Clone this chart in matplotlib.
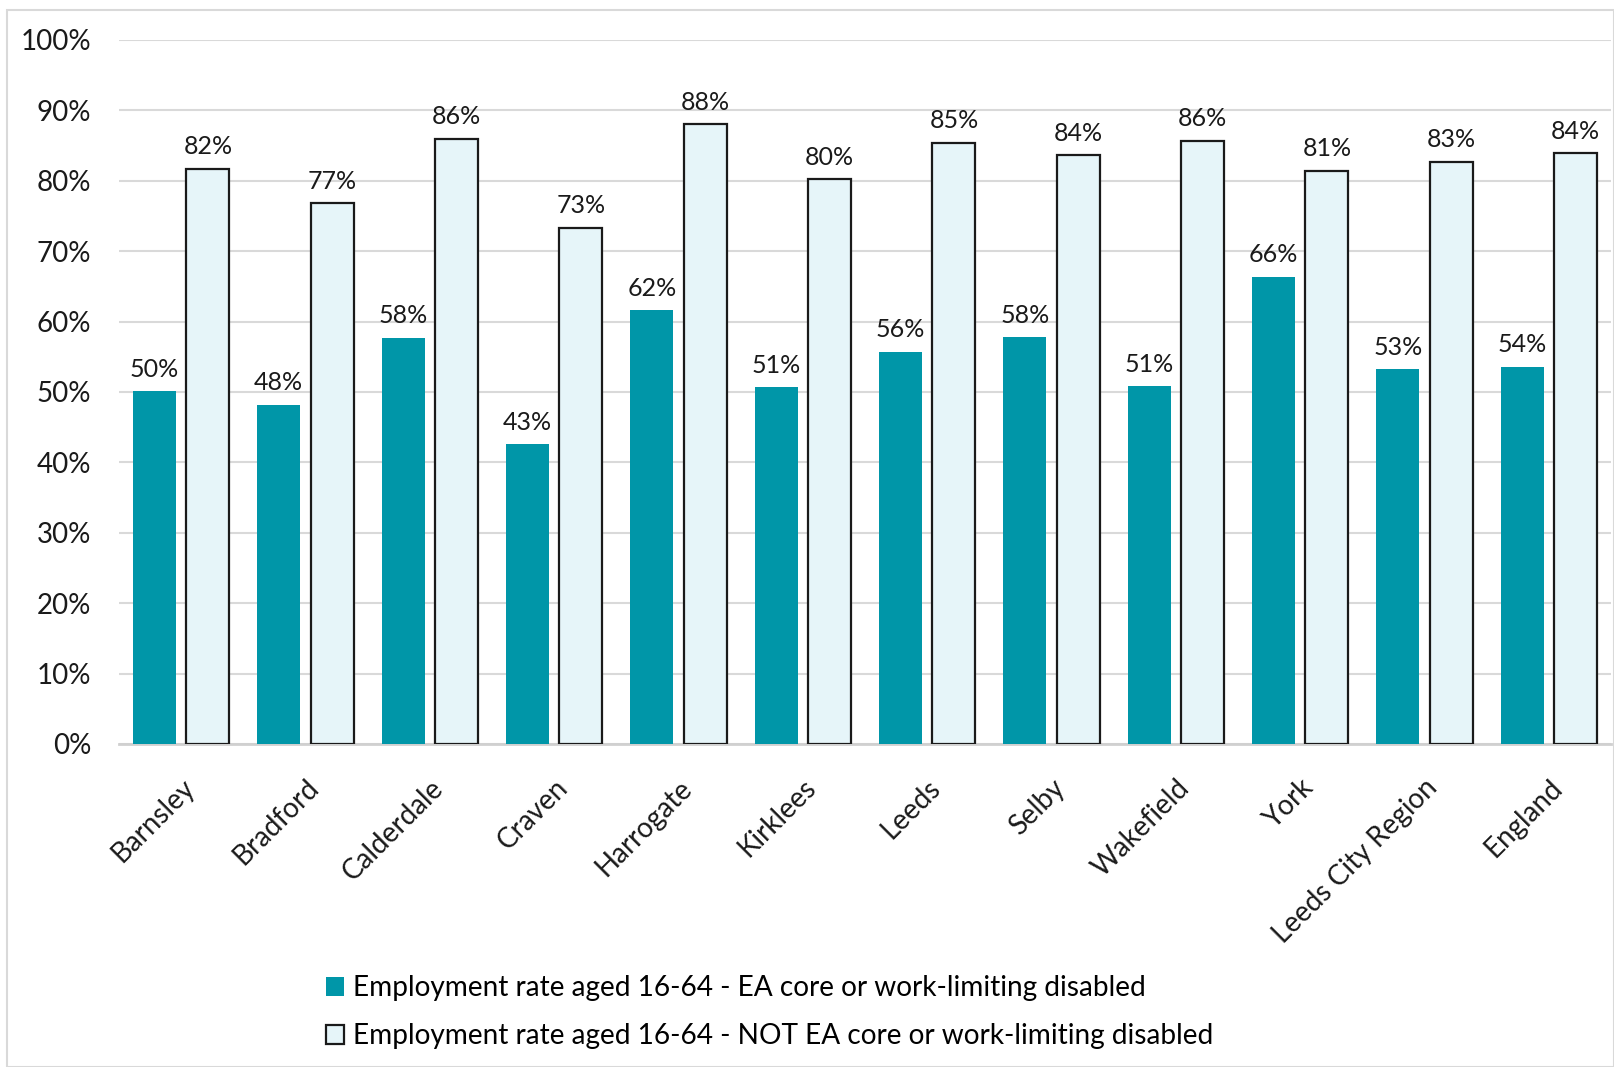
import matplotlib
matplotlib.use("Agg")
import matplotlib.pyplot as plt
import numpy as np
from matplotlib.patches import Rectangle

plt.rcParams['font.family'] = ['Lato', 'DejaVu Sans']

areas = ['Barnsley', 'Bradford', 'Calderdale', 'Craven', 'Harrogate', 'Kirklees',
         'Leeds', 'Selby', 'Wakefield', 'York', 'Leeds City Region', 'England']
disabled = [50.1, 48.2, 57.7, 42.6, 61.6, 50.7, 55.7, 57.8, 50.8, 66.4, 53.2, 53.6]
not_disabled = [81.7, 76.8, 86.0, 73.3, 88.0, 80.2, 85.4, 83.6, 85.7, 81.4, 82.7, 83.9]
yticks = list(range(0, 101, 10))

teal = '#0096A8'
pale = '#E6F5F9'

fig = plt.figure(figsize=(16.14, 10.67), dpi=100)
ax = fig.add_axes([119 / 1614, 1 - 744 / 1067, (1611 - 119) / 1614, 704 / 1067])

x = np.arange(len(areas))
w = 0.345
b1 = ax.bar(x - 0.215, disabled, w, color=teal, zorder=3,
            label='Employment rate aged 16-64 - EA core or work-limiting disabled')
b2 = ax.bar(x + 0.215, not_disabled, w, color=pale, edgecolor='#1a1a1a', linewidth=1.6, zorder=3,
            label='Employment rate aged 16-64 - NOT EA core or work-limiting disabled')

# value labels above each bar
for bars, vals in ((b1, disabled), (b2, not_disabled)):
    for bar, v in zip(bars, vals):
        ax.text(bar.get_x() + bar.get_width() / 2, v + 1.5, f'{v:.0f}%',
                ha='center', va='bottom', fontsize=18, color='#1a1a1a')

ax.set_ylim(0, 100)
ax.set_xlim(-0.5, len(areas) - 0.5)
ax.set_yticks(yticks)
ax.set_yticklabels([f'{t}%' for t in yticks], fontsize=20, color='#1a1a1a')
ax.tick_params(axis='y', length=0, pad=20)
ax.set_xticks(x)
ax.set_xticklabels(areas, rotation=45, ha='right', rotation_mode='anchor', fontsize=20, color='#1a1a1a')
ax.tick_params(axis='x', length=0, pad=22)
ax.grid(axis='y', color='#d9d9d9', linewidth=1.5, zorder=0)
for s in ('top', 'right', 'left'):
    ax.spines[s].set_visible(False)
ax.spines['bottom'].set_color('#d0d0d0')
ax.spines['bottom'].set_linewidth(2)

fig.legend(handles=[b1, b2], loc='upper left', bbox_to_anchor=(312 / 1614, 1 - 961 / 1067),
           frameon=False, fontsize=20.2, handlelength=0.65, handleheight=0.65,
           handletextpad=0.3, labelspacing=0.8, borderpad=0)

fig.patches.append(Rectangle((7 / 1614, 0), 1 - 7 / 1614, 1 - 10 / 1067, transform=fig.transFigure,
                             fill=False, edgecolor='#d9d9d9', linewidth=1.5))

fig.savefig('out.png', dpi=100)
